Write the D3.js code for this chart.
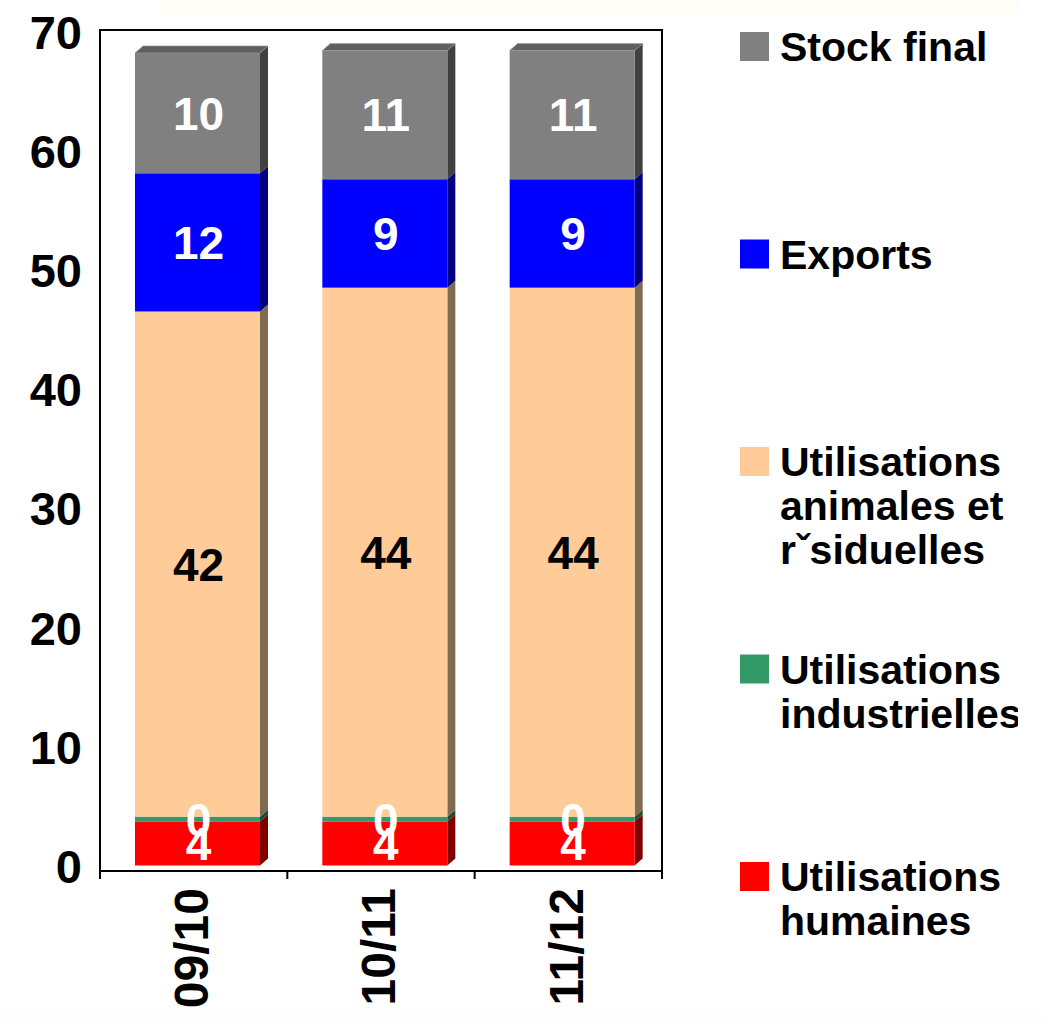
<!DOCTYPE html>
<html>
<head>
<meta charset="utf-8">
<script src="https://cdn.jsdelivr.net/npm/d3@7"></script>
<style>
  body { margin: 0; background: #fff; }
  text { font-family: "Liberation Sans", Arial, sans-serif; font-weight: bold; }
</style>
</head>
<body>
<script>
// categories and series (bottom to top of the stack)
const categories = ["09/10", "10/11", "11/12"];
const humaines = [3.7, 3.7, 3.7];
const industrielles = [0.4, 0.4, 0.4];
const animales = [42.4, 44.4, 44.4];
const exportsVals = [11.6, 9.1, 9.1];
const stock = [10.1, 10.8, 10.8];
const yTicks = [0, 10, 20, 30, 40, 50, 60, 70];

const seriesNames = ["humaines", "industrielles", "animales", "exports", "stock"];
const seriesValues = [humaines, industrielles, animales, exportsVals, stock];
const legendLabels = {
    stock: ["Stock final"],
    exports: ["Exports"],
    animales: ["Utilisations", "animales et", "r\u02C7siduelles"],
    industrielles: ["Utilisations", "industrielles"],
    humaines: ["Utilisations", "humaines"]
};
const fills = { humaines: "#ff0000", industrielles: "#339966", animales: "#ffcc99", exports: "#0000ff", stock: "#808080" };
const sides = { humaines: "#800000", industrielles: "#1a4d33", animales: "#806a50", exports: "#000080", stock: "#404040" };
const labelColor = { humaines: "#fff", industrielles: "#fff", animales: "#000", exports: "#fff", stock: "#fff" };

// build rows for d3.stack
const rows = categories.map((c, i) => {
    const r = { category: c };
    seriesNames.forEach((s, k) => r[s] = seriesValues[k][i]);
    return r;
});

const W = 1045, H = 1025;
const svg = d3.select("body").append("svg")
    .attr("width", W)
    .attr("height", H);

// faint bands at the top and bottom of the picture
svg.append("rect").attr("x", 160).attr("y", 0).attr("width", 860).attr("height", 15).attr("fill", "#fffef6");
svg.append("rect").attr("x", 0).attr("y", 1010).attr("width", 1045).attr("height", 15).attr("fill", "#fcfffc");

const plot = { left: 100, right: 662, top: 30, bottom: 871 };

const x = d3.scaleBand()
    .domain(categories)
    .range([plot.left, plot.right])
    .padding(0);

const y = d3.scaleLinear()
    .domain([0, 70])
    .range([865.5, 31.5]);

const barOffset = 35, barW = 125, dx = 8, dy = -7;

const stacked = d3.stack().keys(seriesNames)(rows);
const segments = stacked.flatMap(layer => layer.map(p => ({ key: layer.key, p: p })));

// frame
svg.append("rect")
    .attr("x", plot.left).attr("y", plot.top)
    .attr("width", plot.right - plot.left).attr("height", plot.bottom - plot.top)
    .attr("fill", "none").attr("stroke", "#000").attr("stroke-width", 2);

// bars : side face, front face
const bars = svg.append("g");

bars.selectAll(".side")
    .data(segments)
    .enter().append("polygon")
    .attr("fill", d => sides[d.key])
    .attr("points", d => {
        const x1 = x(d.p.data.category) + barOffset + barW;
        const yt = y(d.p[1]), yb = y(d.p[0]);
        return [[x1, yt], [x1 + dx, yt + dy], [x1 + dx, yb + dy], [x1, yb]].join(" ");
    });

bars.selectAll(".front")
    .data(segments)
    .enter().append("rect")
    .attr("x", d => x(d.p.data.category) + barOffset)
    .attr("y", d => y(d.p[1]))
    .attr("width", barW)
    .attr("height", d => y(d.p[0]) - y(d.p[1]))
    .attr("fill", d => fills[d.key]);

// top face of the topmost segment
const topLayer = stacked[stacked.length - 1];
bars.selectAll(".topface")
    .data(topLayer)
    .enter().append("polygon")
    .attr("fill", "#606060")
    .attr("stroke", "#9a9a9a")
    .attr("stroke-width", 0.6)
    .attr("points", p => {
        const x0 = x(p.data.category) + barOffset;
        const yt = y(p[1]);
        return [[x0, yt], [x0 + dx, yt + dy], [x0 + barW + dx, yt + dy], [x0 + barW, yt]].join(" ");
    });

// data labels, drawn after all bars
svg.append("g").selectAll("text")
    .data(segments)
    .enter().append("text")
    .attr("x", d => x(d.p.data.category) + barOffset + barW / 2 + 1)
    .attr("y", d => (y(d.p[0]) + y(d.p[1])) / 2)
    .attr("dy", "0.36em")
    .attr("text-anchor", "middle")
    .attr("font-size", "46px")
    .attr("fill", d => labelColor[d.key])
    .text(d => d3.format(".0f")(d.p[1] - d.p[0]));

// y axis labels
const yAxis = svg.append("g")
    .attr("transform", `translate(${plot.left},0)`)
    .call(d3.axisLeft(y).tickValues(yTicks).tickSize(0).tickPadding(18));
yAxis.select(".domain").remove();
yAxis.selectAll("text")
    .attr("font-size", "47px")
    .attr("font-family", "Liberation Sans, Arial, sans-serif")
    .attr("font-weight", "bold")
    .attr("dy", "0.36em")
    .attr("fill", "#000");

// x axis ticks at the band boundaries
const bounds = categories.map(c => x(c)).concat([plot.right]);
svg.selectAll(".xtick")
    .data(bounds)
    .enter().append("line")
    .attr("x1", d => d).attr("x2", d => d)
    .attr("y1", plot.bottom).attr("y2", plot.bottom + 8)
    .attr("stroke", "#000").attr("stroke-width", 2);

// x labels, rotated
svg.selectAll(".xlbl")
    .data(categories)
    .enter().append("text")
    .attr("transform", c => `translate(${x(c) + x.bandwidth() / 2 - 3},888) rotate(-90)`)
    .attr("text-anchor", "end")
    .attr("dy", "0.36em")
    .attr("font-size", "48px")
    .attr("fill", "#000")
    .text(c => c);

// legend
svg.append("clipPath").attr("id", "legclip")
    .append("rect").attr("x", 700).attr("y", 0).attr("width", 318).attr("height", H);

const legendOrder = ["stock", "exports", "animales", "industrielles", "humaines"];
const legendTops = d3.scalePoint().domain(legendOrder).range([32, 862]);

const leg = svg.append("g").attr("clip-path", "url(#legclip)");
const items = leg.selectAll(".item")
    .data(legendOrder)
    .enter().append("g")
    .attr("transform", k => `translate(740,${legendTops(k)})`);

items.append("rect")
    .attr("width", 29).attr("height", 29)
    .attr("fill", k => fills[k]);

items.each(function (k) {
    const t = d3.select(this).append("text")
        .attr("x", 40).attr("y", 29)
        .attr("font-size", "41px")
        .attr("fill", "#000");
    legendLabels[k].forEach((line, i) => {
        t.append("tspan").attr("x", 40).attr("y", 29 + i * 44).text(line);
    });
});
</script>
</body>
</html>
